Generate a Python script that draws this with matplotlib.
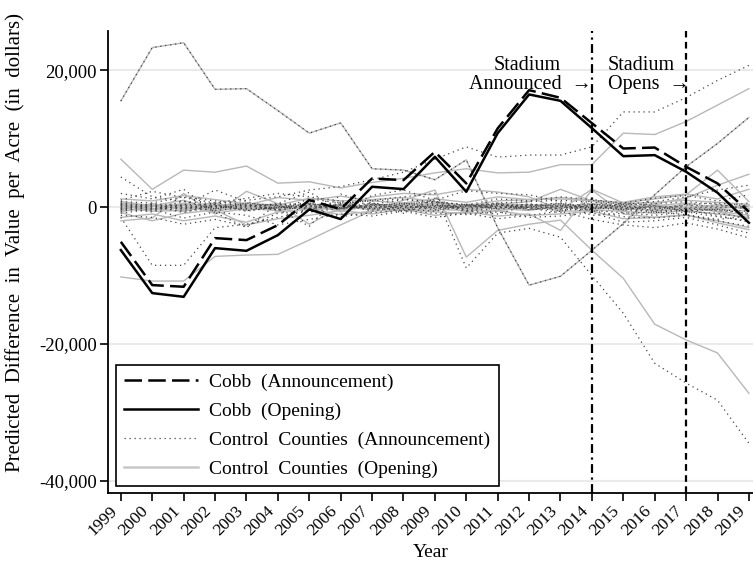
import matplotlib
matplotlib.use("Agg")
import matplotlib.pyplot as plt
from matplotlib.lines import Line2D
from matplotlib.transforms import ScaledTranslation

plt.rcParams['font.family'] = ['Liberation Serif', 'DejaVu Serif']

years = list(range(1999, 2020))

# Cobb County: predicted difference per acre (dollars)
cobb_announce = [-5070, -11390, -11630, -4530, -4820, -2630, 1020, -300, 4190, 3940, 8080,
                 3460, 11500, 17080, 15960, 12260, 8560, 8700, 5890, 3460, -680]
cobb_open = [-6280, -12560, -13100, -5990, -6380, -4090, -340, -1750, 2970, 2630, 7350,
             2240, 10800, 16450, 15520, 11530, 7440, 7590, 5160, 2100, -2290]

# control counties with large swings
ctrl_high = [15500, 23300, 24000, 17200, 17300, 14100, 10800, 12300, 5600, 5400, 4000,
             6900, -3000, -11400, -10100, -6300, -2400, 1800, 5900, 9300, 13100]
ctrl_rise_ann = [4400, 1500, 800, 500, 1000, 1500, 2500, 3000, 4000, 5100, 7000,
                 8800, 7300, 7600, 7600, 8800, 13900, 13900, 16000, 18500, 20700]
ctrl_fall_ann = [-1500, -8500, -8500, -3000, -2500, -1500, -500, 500, 1000, 1500, 2000,
                 -8900, -3800, -3100, -4400, -10000, -15500, -22800, -25700, -28200, -34500]
ctrl_rise_open = [7000, 2600, 5400, 5100, 6000, 3500, 3700, 2800, 3600, 4200, 5000,
                  5600, 5000, 5100, 6200, 6200, 10800, 10600, 12500, 14900, 17300]
ctrl_fall_open = [-10200, -10800, -10800, -7200, -7000, -6900, -4800, -2600, -500, 1000, 2500,
                  -7300, -3400, -2500, -1900, -6300, -10400, -17100, -19400, -21300, -27200]

# control counties staying close to zero (announcement model)
ctrl_ann_small = [
    [300, -500, 900, -300, 600, 200, -700, -200, 300, 500, 700, 400, 300, 100, -200, 200, -400, -600, -300, -500, -900],
    [-600, 200, -800, 400, -500, -100, 500, 100, -300, -200, 300, -300, 200, 400, 100, -500, -800, -1200, -700, -1400, -2000],
    [800, 600, 1500, 900, 300, -400, 1200, 600, 900, 1200, 500, -200, 600, 800, 1000, 700, 300, 500, 800, 400, -300],
    [-1200, -1500, -2500, -1800, -2800, -900, -600, -1400, -800, -500, -900, -1100, -700, -1500, -1300, -800, -2200, -2000, -1500, -2600, -3800],
    [200, 100, 300, -100, 200, 400, -200, 300, 100, -100, 200, 100, -100, 200, 300, -200, 100, -300, 400, 600, 200],
    [-300, -200, -100, 200, -300, -100, 100, -200, 400, 200, -400, 300, 100, -300, -100, 400, 200, -100, -200, -400, -600],
    [1000, 2300, 1400, 600, 1300, 2000, 1500, 900, 400, 1100, 800, 300, 1200, 900, 1500, 1100, 600, 1300, 1700, 900, 1800],
    [-900, -300, -1600, -700, -1200, -2600, -1800, -1000, -1300, -600, -1500, -900, -1700, -1200, -600, -1800, -2600, -3000, -2300, -3200, -4500],
    [2000, 1200, 2600, -800, -3000, 500, 2200, -400, 1700, 2500, 1000, 2400, 2000, 1800, 800, -500, -1400, -1600, -1200, -2000, -2800],
    [-400, 500, 200, 2500, 800, -300, -2800, 1900, 600, -900, 1300, -600, 400, -200, -800, 1000, 400, 800, 1500, 2500, 3200],
    [100, -100, 0, 100, -200, 0, 200, -100, 0, 100, -100, 200, 0, -100, 100, 0, -200, 100, 0, -100, 100],
    [500, 300, -300, 600, 100, 500, 300, 700, -200, 400, 900, -500, -1000, 300, 600, -1200, -900, -700, -1100, -1800, -1300],
    [-100, 400, -300, 100, 500, -400, 0, 300, -200, -500, 100, 400, -300, 0, 500, -100, -400, 200, -600, -300, -1000],
    [600, -200, 100, -500, 0, 300, 600, -300, 200, 600, -200, 0, 500, -400, 200, 500, 0, -500, 300, 100, 600],
    [-200, -700, 400, 300, -600, 100, -300, 500, -600, 200, 400, -600, -200, 500, -400, -300, 600, 200, -700, -900, -1600],
    [400, 100, -600, -200, 300, -500, 400, -100, 600, -300, -600, 200, 600, -100, -500, 300, -100, -800, -400, -1200, -2200],
]

# control counties staying close to zero (opening model)
ctrl_open_small = [
    [-500, -300, 600, -200, 400, 100, -400, -100, 200, 400, 500, 300, 200, 0, -100, 100, -300, -400, -200, -300, -600],
    [400, -200, -600, 300, -300, 0, 400, 200, -200, -100, 200, -200, 100, 300, 200, -400, -600, -900, -500, -1000, -1500],
    [-2000, -1600, 2000, -1000, 2300, 500, -2500, 0, 1500, 2000, 1800, 2600, 2200, 1500, -400, 2600, 600, 1200, 1800, 5400, 800],
    [-1500, -1000, -2000, -1300, -2200, -700, -300, -1100, -600, -300, -700, -900, -500, -1200, -1000, -600, -1700, -1500, -1200, -2000, -3000],
    [1200, 900, 1700, 1100, 500, 300, 1300, 900, 1100, 1400, 800, 200, 900, 1100, 1200, 900, 500, 700, 1000, 700, 400],
    [-200, 300, -400, 500, -100, 200, -300, 400, -200, 300, -100, 200, -300, 100, 300, -200, 100, 300, -100, 200, -300],
    [-800, -2000, -900, -400, -2600, -1700, -1200, -500, -1000, -300, -1200, -700, -1300, -1000, -3400, 2500, -1000, -1500, -1100, -2300, -3300],
    [800, 200, 1000, -500, 300, 1400, 1000, 1600, 900, 600, 1200, 700, 1500, 1100, 1400, 1000, 700, 1500, 1900, 1200, 2600],
    [0, 200, -100, 0, 100, -100, 0, 100, -100, 0, 200, -100, 0, 100, -100, 0, 100, -100, 0, -200, 100],
    [-700, 100, 300, -900, -200, -500, 600, -700, 300, -400, 700, -800, 400, 800, 2600, 900, -200, 500, 1300, 3200, 4800],
    [300, -400, 200, 600, -500, 300, -100, -400, 500, -200, -500, 400, 300, -400, 0, 500, -300, 200, 600, -100, 300],
    [-400, 500, -200, -300, 400, -600, 300, 100, -400, 500, 300, -300, -600, 200, 500, -300, 300, -600, -200, -600, -1200],
    [600, 100, 400, -600, 0, 500, -500, 300, 0, -500, 600, 100, -200, -500, 300, 200, -500, 400, -400, 400, -200],
    [-100, -600, -500, 200, 600, -200, 500, -600, 400, 100, -300, -500, 500, 300, -600, -500, 500, -200, 400, -700, -1700],
]

fig = plt.figure(figsize=(7.53, 5.66), dpi=100)
ax = fig.add_axes([0.1434, 0.129, 0.8566, 0.816])

ann_style = dict(color='#444444', lw=0.9, linestyle=(0, (1, 3)), zorder=3)
open_style = dict(color='#b8b8b8', lw=1.0, linestyle='-', zorder=2)

for row in ctrl_open_small:
    ax.plot(years, row, **open_style)
for row in ctrl_ann_small:
    ax.plot(years, row, **ann_style)

for row in [ctrl_high, ctrl_rise_open, ctrl_fall_open]:
    ax.plot(years, row, **open_style)
for row in [ctrl_high, ctrl_rise_ann, ctrl_fall_ann]:
    ax.plot(years, row, **ann_style)

ax.plot(years, cobb_announce, color='black', lw=1.8, linestyle=(0, (7, 2.5)), zorder=6)
ax.plot(years, cobb_open, color='black', lw=1.8, linestyle='-', zorder=6)

# event markers
ax.axvline(2014, color='black', lw=1.6, linestyle=(0, (4, 2, 1, 2)), zorder=5)
ax.axvline(2017, color='black', lw=1.6, linestyle=(0, (3, 2)), zorder=5)

ax.text(2011.95, 20750, 'Stadium', ha='center', va='center', fontsize=14.5)
ax.text(2014.0, 17900, 'Announced  \u2192', ha='right', va='center', fontsize=14.5)
ax.text(2014.5, 20750, 'Stadium', ha='left', va='center', fontsize=14.5)
ax.text(2014.5, 17900, 'Opens  \u2192', ha='left', va='center', fontsize=14.5)

ax.set_xlim(1998.59, 2019.13)
ax.set_ylim(-41750, 25700)
ax.set_xticks(years)
ax.set_yticks([20000, 0, -20000, -40000])
ax.set_yticklabels(['20,000', '0', '-20,000', '-40,000'], fontsize=13.5)
ax.tick_params(axis='both', direction='out', length=6, width=1.2, color='black')
ax.tick_params(axis='x', pad=3)
ax.tick_params(axis='y', pad=2)
ax.set_xticklabels([str(y) for y in years], rotation=45, ha='right', va='center',
                   rotation_mode='anchor', fontsize=12.5)
# nudge the slanted year labels so their ends sit under the ticks
shift = ScaledTranslation(-6 / 100, -3 / 100, fig.dpi_scale_trans)
for lab in ax.get_xticklabels():
    lab.set_transform(lab.get_transform() + shift)

ax.grid(axis='y', color='#eaeaea', lw=1.5, zorder=0)
ax.set_axisbelow(True)
for side in ['top', 'right']:
    ax.spines[side].set_visible(False)
for side in ['left', 'bottom']:
    ax.spines[side].set_linewidth(1.3)

ax.set_xlabel('Year', fontsize=14, labelpad=4)
ax.set_ylabel('Predicted  Difference  in  Value  per  Acre  (in  dollars)', fontsize=15)
ax.yaxis.set_label_coords(-0.128, 0.542)

handles = [
    Line2D([], [], color='black', lw=1.8, linestyle=(0, (7, 2.5))),
    Line2D([], [], color='black', lw=1.8, linestyle='-'),
    Line2D([], [], color='#444444', lw=0.9, linestyle=(0, (1, 3))),
    Line2D([], [], color='#c8c8c8', lw=1.8, linestyle='-'),
]
labels = ['Cobb  (Announcement)', 'Cobb  (Opening)',
          'Control  Counties  (Announcement)', 'Control  Counties  (Opening)']
leg = ax.legend(handles, labels, loc='lower left', bbox_to_anchor=(0.012, 0.015),
                fontsize=14, frameon=True, fancybox=False, handlelength=3.8,
                handletextpad=0.6, labelspacing=0.58, borderpad=0.42, borderaxespad=0)
leg.get_frame().set_edgecolor('black')
leg.get_frame().set_linewidth(1.2)
leg.get_frame().set_facecolor('white')
leg.get_frame().set_alpha(1)
leg.set_zorder(10)

fig.savefig('out.png', dpi=100)
